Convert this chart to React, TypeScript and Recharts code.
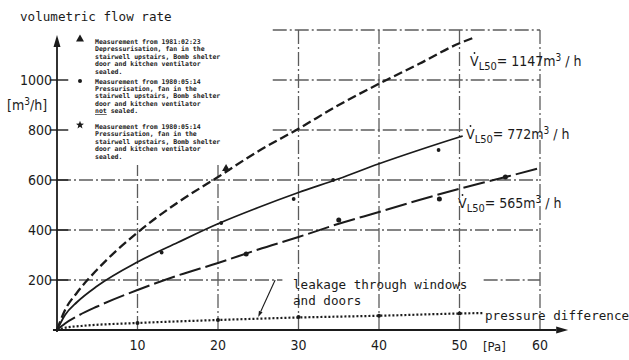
import { ComposedChart, Line, XAxis, YAxis, ReferenceLine } from "recharts";

const W = 629;
const H = 360;
const INK = "#1b1b1b";
const GRID = "#5c5c5c";
const MONO = "'DejaVu Sans Mono', 'Liberation Mono', monospace";
const NARROW = "'Liberation Sans Narrow', 'DejaVu Sans Condensed', 'Liberation Sans', sans-serif";

// pressure difference [Pa] -> volumetric flow rate [m³/h]
const depressX = [0, 1, 2.5, 5, 10, 15, 20, 25, 30, 35, 40, 45, 50, 52];
const depressY = [0, 80, 150, 242, 390, 510, 612, 715, 805, 900, 985, 1065, 1147, 1172];

const unsealedX = [0, 1, 2.5, 5, 10, 15, 20, 25, 30, 35, 40, 45, 50, 50.4];
const unsealedY = [0, 60, 112, 176, 272, 350, 425, 490, 550, 605, 665, 720, 772, 776];

const sealedX = [0, 1, 2.5, 5, 10, 15, 20, 25, 30, 35, 40, 45, 50, 55, 60];
const sealedY = [0, 26, 55, 94, 160, 218, 268, 322, 372, 425, 472, 520, 565, 606, 648];

const leakX = [0, 1, 3, 10, 20, 30, 40, 50, 53];
const leakY = [0, 9, 16, 28, 40, 50, 57, 66, 68];

// measured points
const depressMarkX = [21];
const depressMarkY = [648];
const unsealedMarkX = [13, 20.4, 29.4, 34.3, 47.4];
const unsealedMarkY = [310, 428, 524, 600, 720];
const sealedMarkX = [23.5, 35, 47.5, 55.7];
const sealedMarkY = [304, 440, 524, 612];
const leakMarkX = [10, 20, 30, 40, 50];
const leakMarkY = [28, 40, 52, 57, 66];

const xTicks = [10, 20, 30, 40, 50, 60];
const yTicks = [200, 400, 600, 800, 1000];

// grid runs: [value, from, to]
const hGrid: [number, number, number][] = [
  [200, 0, 28], [200, 53, 60], [400, 0, 60], [600, 0, 60],
  [800, 26.8, 50.4], [1000, 26.8, 60], [1200, 26.8, 60],
];
const vGrid: [number, number, number][] = [
  [10, 0, 660], [20, 0, 660], [30, 0, 1200], [40, 0, 1200], [50, 0, 1200], [60, 0, 1200],
];

const legendNotes = [
  ["Measurement from 1981:02:23", "Depressurisation, fan in the", "stairwell upstairs, Bomb shelter", "door and kitchen ventilator", "sealed."],
  ["Measurement from 1980:05:14", "Pressurisation, fan in the", "stairwell upstairs, Bomb shelter", "door and kitchen ventilator", "not sealed."],
  ["Measurement from 1980:05:14", "Pressurisation, fan in the", "stairwell upstairs, Bomb shelter", "door and kitchen ventilator", "sealed."],
];

const pts = (xs: number[], ys: number[]) => xs.map((x, i) => ({ x, y: ys[i] }));

const arrow = (len: number, half: number, width: number) => (p: any) => {
  const { x1, y1, x2, y2 } = p;
  const a = Math.atan2(y2 - y1, x2 - x1);
  const bx = x2 - len * Math.cos(a);
  const by = y2 - len * Math.sin(a);
  const nx = -Math.sin(a) * half;
  const ny = Math.cos(a) * half;
  return (
    <g>
      <line x1={x1} y1={y1} x2={bx} y2={by} stroke={INK} strokeWidth={width} />
      <polygon points={`${x2},${y2} ${bx + nx},${by + ny} ${bx - nx},${by - ny}`} fill={INK} />
    </g>
  );
};

const dot = (r: number) => (p: any) => (
  <circle key={`d-${p.index}-${p.cx}`} cx={p.cx} cy={p.cy} r={r} fill={INK} />
);

const triangle = (p: any) => (
  <polygon key={`t-${p.index}`} points={`${p.cx},${p.cy - 4} ${p.cx - 4},${p.cy + 3} ${p.cx + 4},${p.cy + 3}`} fill={INK} />
);

function star(cx: number, cy: number, r: number) {
  const out: string[] = [];
  for (let i = 0; i < 10; i++) {
    const rr = i % 2 === 0 ? r : r * 0.42;
    const a = -Math.PI / 2 + (i * Math.PI) / 5;
    out.push(`${cx + rr * Math.cos(a)},${cy + rr * Math.sin(a)}`);
  }
  return out.join(" ");
}

function VLabel({ x, y, value, gap }: { x: number; y: number; value: string; gap: string }) {
  return (
    <g fontFamily={NARROW} fill={INK}>
      <circle cx={x + 4.5} cy={y - 13} r={0.9} fill={INK} />
      <text x={x} y={y} fontSize={14}>
        V
        <tspan fontSize={11} dy={4}>L50</tspan>
        <tspan dy={-4}>{`=${gap}${value}m`}</tspan>
        <tspan fontSize={10} dy={-5}>3</tspan>
        <tspan dy={5}> / h</tspan>
      </text>
    </g>
  );
}

export default function App() {
  return (
    <div style={{ position: "absolute", left: 0, top: 0, width: W, height: H, background: "#fff" }}>
      <ComposedChart width={W} height={H} margin={{ top: 30, right: 89, bottom: 0, left: 0 }}>
        <XAxis
          type="number" dataKey="x" domain={[0, 60]} ticks={xTicks} height={30}
          axisLine={false} tickLine={false} tickSize={0} tickMargin={10}
          tick={{ fill: INK, fontSize: 14, fontFamily: NARROW }}
        />
        <YAxis
          type="number" dataKey="y" domain={[0, 1200]} ticks={yTicks} width={57}
          axisLine={false} tickLine={false} tickSize={0} tickMargin={5}
          tick={{ fill: INK, fontSize: 14, fontFamily: NARROW }}
        />

        {hGrid.map(([v, a, b], i) => (
          <ReferenceLine key={`h${i}`} segment={[{ x: a, y: v }, { x: b, y: v }]} ifOverflow="visible"
            stroke={GRID} strokeWidth={1.3} strokeDasharray="14 3 2 3" />
        ))}
        {vGrid.map(([v, a, b], i) => (
          <ReferenceLine key={`v${i}`} segment={[{ x: v, y: a }, { x: v, y: b }]} ifOverflow="visible"
            stroke={GRID} strokeWidth={1.3} strokeDasharray="14 3 2 3" />
        ))}
        {yTicks.map((v) => (
          <ReferenceLine key={`yt${v}`} segment={[{ x: -0.9, y: v }, { x: 1.4, y: v }]} ifOverflow="visible"
            stroke={INK} strokeWidth={1.4} />
        ))}

        {/* axes with arrow heads */}
        <ReferenceLine segment={[{ x: 0, y: -8 }, { x: 0, y: 1180 }]} ifOverflow="visible" shape={arrow(12, 3.5, 1.8)} />
        <ReferenceLine segment={[{ x: -0.5, y: 0 }, { x: 63.5, y: 0 }]} ifOverflow="visible" shape={arrow(12, 3.5, 1.8)} />

        {/* leader for the leakage note */}
        <ReferenceLine segment={[{ x: 27.1, y: 200 }, { x: 25, y: 52 }]} ifOverflow="visible" shape={arrow(6, 2, 1.1)} />

        <Line data={pts(depressX, depressY)} dataKey="y" type="monotone" stroke={INK} strokeWidth={2.3}
          strokeDasharray="9 4" dot={false} activeDot={false} isAnimationActive={false} />
        <Line data={pts(unsealedX, unsealedY)} dataKey="y" type="monotone" stroke={INK} strokeWidth={1.8}
          dot={false} activeDot={false} isAnimationActive={false} />
        <Line data={pts(sealedX, sealedY)} dataKey="y" type="monotone" stroke={INK} strokeWidth={2}
          strokeDasharray="22 5" dot={false} activeDot={false} isAnimationActive={false} />
        <Line data={pts(leakX, leakY)} dataKey="y" type="monotone" stroke={INK} strokeWidth={2.2}
          strokeDasharray="2 2" dot={false} activeDot={false} isAnimationActive={false} />

        <Line data={pts(depressMarkX, depressMarkY)} dataKey="y" stroke="none" dot={triangle}
          activeDot={false} isAnimationActive={false} />
        <Line data={pts(unsealedMarkX, unsealedMarkY)} dataKey="y" stroke="none" dot={dot(1.9)}
          activeDot={false} isAnimationActive={false} />
        <Line data={pts(sealedMarkX, sealedMarkY)} dataKey="y" stroke="none" dot={dot(2.5)}
          activeDot={false} isAnimationActive={false} />
        <Line data={pts(leakMarkX, leakMarkY)} dataKey="y" stroke="none" dot={dot(2)}
          activeDot={false} isAnimationActive={false} />
      </ComposedChart>

      <svg width={W} height={H} style={{ position: "absolute", left: 0, top: 0, pointerEvents: "none" }}>
        <text x={20} y={21} fontFamily={MONO} fontSize={12.6} fill={INK}>volumetric flow rate</text>
        <text x={7} y={110} fontFamily={NARROW} fontSize={14} fill={INK}>
          [m<tspan fontSize={10} dy={-5}>3</tspan><tspan dy={5}>/h]</tspan>
        </text>

        {/* legend */}
        <polygon points="80,34.5 76,41.5 84,41.5" fill={INK} />
        <circle cx={80} cy={81} r={2} fill={INK} />
        <polygon points={star(80, 125, 4.2)} fill={INK} />
        {legendNotes.map((lines, b) => {
          const top = [44, 83.5, 129][b];
          return (
            <text key={b} fontFamily={MONO} fontSize={6.5} fontWeight="bold" fill={INK}>
              {lines.map((s, i) =>
                b === 1 && i === 4 ? (
                  <tspan key={i} x={95} y={top + i * 7.4}>
                    <tspan textDecoration="underline">not</tspan> sealed.
                  </tspan>
                ) : (
                  <tspan key={i} x={95} y={top + i * 7.4}>{s}</tspan>
                )
              )}
            </text>
          );
        })}

        <VLabel x={470} y={66} value="1147" gap=" " />
        <VLabel x={466} y={139} value="772" gap="  " />
        <VLabel x={458} y={208} value="565" gap=" " />

        <text fontFamily={MONO} fontSize={12.6} fill={INK}>
          <tspan x={293} y={289}>leakage through windows</tspan>
          <tspan x={293} y={305}>and doors</tspan>
        </text>
        <text x={485} y={320} fontFamily={MONO} fontSize={12.6} fill={INK}>pressure difference</text>
        <text x={483} y={351} fontFamily={NARROW} fontSize={13} fill={INK}>[Pa]</text>
      </svg>
    </div>
  );
}
